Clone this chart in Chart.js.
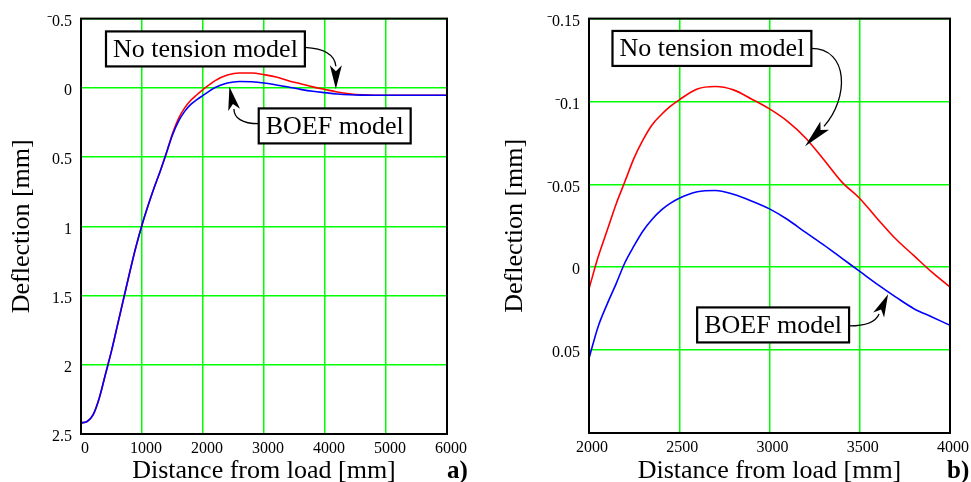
<!DOCTYPE html>
<html><head><meta charset="utf-8">
<script src="https://cdn.jsdelivr.net/npm/chart.js@4/dist/chart.umd.min.js"></script>
<style>
html,body{margin:0;padding:0;background:#fff;}
#a{position:absolute;left:0;top:0;width:485px;height:482px;}
#b{position:absolute;left:485px;top:0;width:486px;height:482px;}
</style></head><body>
<div id="a"><canvas id="ca" width="485" height="482"></canvas></div>
<div id="b"><canvas id="cb" width="486" height="482"></canvas></div>
<script>
// ---------- data ----------
const leftX = [0,100,200,300,400,500,600,700,800,900,1000,1100,1200,1300,1400,1500,1600,1700,1800,1900,2000,2200,2400,2600,2800,3000,3200,3400,3600,3800,4000,4200,4400,4600,4800,5000,5500,6000];
const leftBoef = [2.42,2.41,2.36,2.24,2.07,1.90,1.71,1.52,1.33,1.15,0.99,0.85,0.72,0.60,0.47,0.34,0.24,0.17,0.12,0.085,0.055,-0.003,-0.035,-0.046,-0.044,-0.035,-0.021,-0.0055,0.011,0.025,0.035,0.044,0.05,0.053,0.054,0.054,0.054,0.054];
const leftNoTension = [2.42,2.41,2.36,2.24,2.07,1.90,1.71,1.52,1.33,1.15,0.99,0.85,0.72,0.60,0.47,0.33,0.22,0.145,0.09,0.05,0.013,-0.052,-0.092,-0.1075,-0.107,-0.0955,-0.078,-0.051,-0.029,-0.007,0.012,0.030,0.043,0.051,0.054,0.054,0.054,0.054];
const leftXTicks = [0,1000,2000,3000,4000,5000,6000];
const leftXTickLabels = ['0','1000','2000','3000','4000','5000','6000'];
const leftYTicks = [-0.5,0,0.5,1,1.5,2,2.5];
const leftYTickLabels = ['\u207B0.5','0','0.5','1','1.5','2','2.5'];

const rightX = [2000,2050,2100,2150,2200,2250,2300,2350,2400,2450,2500,2600,2700,2800,2900,3000,3100,3200,3300,3400,3500,3600,3700,3800,3900,4000];
const rightNoTension = [0.013,-0.006,-0.022,-0.038,-0.052,-0.066,-0.077,-0.086,-0.092,-0.097,-0.101,-0.1075,-0.109,-0.107,-0.1015,-0.0955,-0.088,-0.078,-0.065,-0.0515,-0.0415,-0.029,-0.017,-0.007,0.003,0.012];
const rightBoef = [0.055,0.036,0.0224,0.010,-0.003,-0.013,-0.022,-0.029,-0.0345,-0.0385,-0.0416,-0.0455,-0.0463,-0.0440,-0.0400,-0.0352,-0.0288,-0.021,-0.0135,-0.0055,0.0025,0.0105,0.018,0.025,0.030,0.035];
const rightXTicks = [2000,2500,3000,3500,4000];
const rightXTickLabels = ['2000','2500','3000','3500','4000'];
const rightYTicks = [-0.15,-0.1,-0.05,0,0.05,0.1];
const rightYTickLabels = ['\u207B0.15','\u207B0.1','\u207B0.05','0','0.05',''];

const FONT = '"Liberation Serif","Times New Roman",Times,serif';

// ---------- decoration plugin (frame, callouts, panel letter) ----------
const decor = {
  id: 'decor',
  afterDatasetsDraw(chart, args, opts) {
    const ctx = chart.ctx, a = chart.chartArea, xs = chart.scales.x, ys = chart.scales.y;
    const P = p => [xs.getPixelForValue(p[0]), ys.getPixelForValue(p[1])];
    ctx.save();
    ctx.strokeStyle = '#000';
    ctx.lineWidth = 2;
    ctx.strokeRect(a.left, a.top, a.right - a.left, a.bottom - a.top);
    for (const ar of opts.arrows) {
      const [s, c1, c2, b, t] = [ar.start, ar.c1, ar.c2, ar.base, ar.tip].map(P);
      ctx.beginPath();
      ctx.moveTo(s[0], s[1]);
      ctx.bezierCurveTo(c1[0], c1[1], c2[0], c2[1], b[0], b[1]);
      ctx.lineWidth = 1.3; ctx.strokeStyle = '#000'; ctx.stroke();
      const dx = t[0] - b[0], dy = t[1] - b[1], L = Math.hypot(dx, dy);
      const ux = dx / L, uy = dy / L, nx = -uy, ny = ux, w = 6;
      ctx.beginPath();
      ctx.moveTo(t[0], t[1]);
      ctx.lineTo(b[0] + nx * w - ux * 1, b[1] + ny * w - uy * 1);
      ctx.lineTo(b[0] + ux * 5, b[1] + uy * 5);
      ctx.lineTo(b[0] - nx * w - ux * 1, b[1] - ny * w - uy * 1);
      ctx.closePath();
      ctx.fillStyle = '#000'; ctx.fill();
    }
    ctx.font = '26px ' + FONT;
    for (const bx of opts.boxes) {
      const [cx, cy] = P([bx.x, bx.y]);
      const w = ctx.measureText(bx.text).width + 14, h = 35;
      ctx.fillStyle = '#fff';
      ctx.fillRect(cx - w / 2, cy - h / 2, w, h);
      ctx.lineWidth = 2.2; ctx.strokeStyle = '#000';
      ctx.strokeRect(cx - w / 2, cy - h / 2, w, h);
      ctx.fillStyle = '#000'; ctx.textAlign = 'center'; ctx.textBaseline = 'middle';
      ctx.fillText(bx.text, cx, cy + 1);
    }
    ctx.font = 'bold 25px ' + FONT;
    ctx.textAlign = 'left'; ctx.textBaseline = 'alphabetic'; ctx.fillStyle = '#000';
    ctx.fillText(opts.letter, a.right + opts.letterDx, chart.height - 4);
    ctx.restore();
  }
};

function makeChart(canvas, c) {
  const tickFont = { family: FONT, size: 16 };
  const titleFont = { family: FONT, size: 26, lineHeight: 0.8 };
  const grid = { color: '#00ff00', lineWidth: 1.5, drawTicks: false };
  return new Chart(canvas, {
    type: 'scatter',
    data: { datasets: [
      { label: 'BOEF model', data: c.x.map((v, i) => ({ x: v, y: c.boef[i] })), borderColor: '#0000ff', borderWidth: 1.6, showLine: true, pointRadius: 0, cubicInterpolationMode: 'monotone' },
      { label: 'No tension model', data: c.x.map((v, i) => ({ x: v, y: c.nt[i] })), borderColor: '#ff0000', borderWidth: 1.6, showLine: true, pointRadius: 0, cubicInterpolationMode: 'monotone' }
    ]},
    options: {
      responsive: false, animation: false, devicePixelRatio: 1,
      layout: { padding: { top: 15, right: c.padRight, left: 0, bottom: 0 } },
      plugins: { legend: { display: false }, tooltip: { enabled: false }, decor: c.decor },
      scales: {
        x: {
          type: 'linear', min: c.xTicks[0], max: c.xTicks[c.xTicks.length - 1],
          afterBuildTicks: s => { s.ticks = c.xTicks.map(v => ({ value: v })); },
          afterFit: s => { s.height = c.xHeight; },
          grid: grid, border: { display: false },
          ticks: { font: tickFont, color: '#000', padding: 5, labelOffset: c.xLabelOffset, maxRotation: 0, autoSkip: false, callback: (v, i) => c.xLabels[i] },
          title: { display: true, text: 'Distance from load [mm]', font: titleFont, color: '#000', padding: 0 }
        },
        y: {
          type: 'linear', reverse: true, min: c.yTicks[0], max: c.yTicks[c.yTicks.length - 1],
          afterBuildTicks: s => { s.ticks = c.yTicks.map(v => ({ value: v })); },
          afterFit: s => { s.width = c.yWidth; },
          grid: grid, border: { display: false },
          ticks: { font: tickFont, color: '#000', padding: 9, labelOffset: 3, autoSkip: false, callback: (v, i) => c.yLabels[i] },
          title: { display: true, text: 'Deflection [mm]', font: titleFont, color: '#000', padding: { top: c.yTitlePad, bottom: 0 } }
        }
      }
    },
    plugins: [decor]
  });
}

makeChart(document.getElementById('ca'), {
  x: leftX, boef: leftBoef, nt: leftNoTension,
  xTicks: leftXTicks, xLabels: leftXTickLabels, yTicks: leftYTicks, yLabels: leftYTickLabels,
  padRight: 38, yWidth: 81, xHeight: 48, xLabelOffset: 4, yTitlePad: 12,
  decor: {
    letter: 'a)', letterDx: 0,
    boxes: [ { text: 'No tension model', x: 2040, y: -0.281 }, { text: 'BOEF model', x: 4159, y: 0.275 } ],
    arrows: [
      { start: [3670, -0.292], c1: [3998, -0.284], c2: [4162, -0.235], base: [4178, -0.156], tip: [4178, 0.008] },
      { start: [2912, 0.259], c1: [2638, 0.259], c2: [2507, 0.216], base: [2507, 0.152], tip: [2433, -0.007] }
    ]
  }
});

makeChart(document.getElementById('cb'), {
  x: rightX, boef: rightBoef, nt: rightNoTension,
  xTicks: rightXTicks, xLabels: rightXTickLabels, yTicks: rightYTicks, yLabels: rightYTickLabels,
  padRight: 21, yWidth: 104, xHeight: 49, xLabelOffset: 3, yTitlePad: 20,
  decor: {
    letter: 'b)', letterDx: -3,
    boxes: [ { text: 'No tension model', x: 2681, y: -0.132 }, { text: 'BOEF model', x: 3020, y: 0.0348 } ],
    arrows: [
      { start: [3231, -0.132], c1: [3441, -0.132], c2: [3441, -0.102], base: [3302, -0.085], tip: [3197, -0.073] },
      { start: [3443, 0.0354], c1: [3536, 0.0354], c2: [3591, 0.0324], base: [3607, 0.0282], tip: [3657, 0.0163] }
    ]
  }
});
</script>
</body></html>
